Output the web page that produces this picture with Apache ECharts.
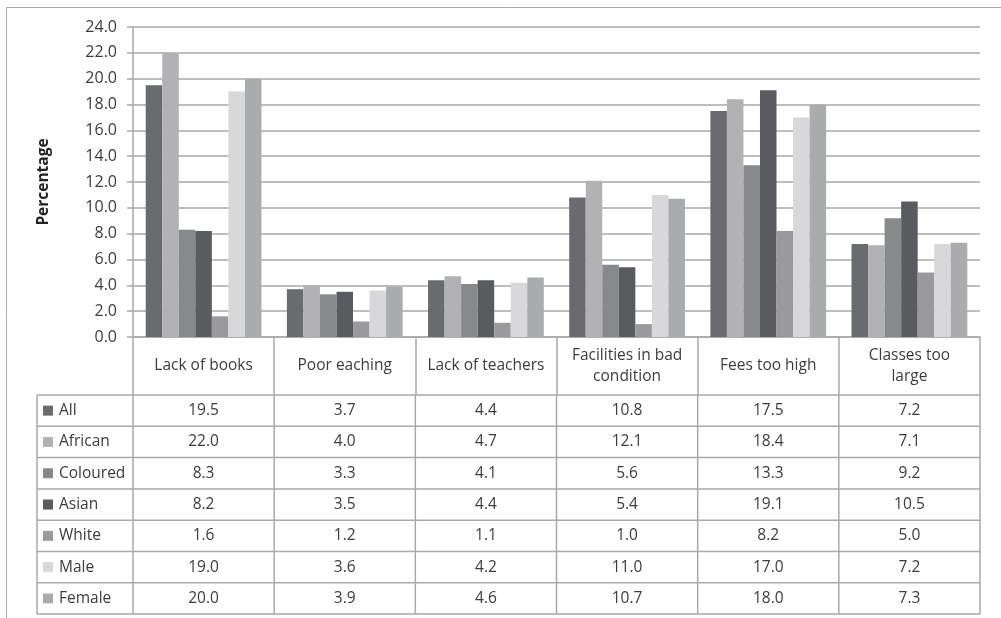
<!DOCTYPE html>
<html>
<head>
<meta charset="utf-8">
<script src="https://cdn.jsdelivr.net/npm/echarts@6/dist/echarts.min.js"></script>
<style>
  html, body { margin: 0; padding: 0; background: #fff; }
  #chart { width: 1001px; height: 618px; }
</style>
</head>
<body>
<div id="chart"></div>
<script>
// Reasons given for problems at school, by population group and sex (%)
const categories = ['Lack of books', 'Poor eaching', 'Lack of teachers', 'Facilities in bad\ncondition', 'Fees too high', 'Classes too\nlarge'];
const groupNames = ['All', 'African', 'Coloured', 'Asian', 'White', 'Male', 'Female'];
const groupColors = ['#6a6b6f', '#b2b2b4', '#88898b', '#5a5b5f', '#9a9a9c', '#d8d8da', '#a9abad'];

const allValues      = [19.5, 3.7, 4.4, 10.8, 17.5, 7.2];
const africanValues  = [22.0, 4.0, 4.7, 12.1, 18.4, 7.1];
const colouredValues = [8.3, 3.3, 4.1, 5.6, 13.3, 9.2];
const asianValues    = [8.2, 3.5, 4.4, 5.4, 19.1, 10.5];
const whiteValues    = [1.6, 1.2, 1.1, 1.0, 8.2, 5.0];
const maleValues     = [19.0, 3.6, 4.2, 11.0, 17.0, 7.2];
const femaleValues   = [20.0, 3.9, 4.6, 10.7, 18.0, 7.3];

const groupValues = [allValues, africanValues, colouredValues, asianValues, whiteValues, maleValues, femaleValues];

const FONT = '"Open Sans", "Noto Sans", sans-serif';
const TEXT = '#3c3c3c';
const LINE = '#a9a9a9';

const grid = { left: 133, right: 21, top: 27, bottom: 281 };
const headerHeight = 58;
const rowHeight = 31.3;
const labelColLeft = 37;

const chart = echarts.init(document.getElementById('chart'), null, { renderer: 'canvas' });

chart.setOption({
  backgroundColor: '#fff',
  animation: false,
  grid: grid,
  xAxis: {
    type: 'category',
    data: categories,
    boundaryGap: true,
    axisLine: { lineStyle: { color: LINE, width: 1.5 } },
    axisTick: { show: true, interval: 0, length: headerHeight, lineStyle: { color: LINE, width: 1.5 } },
    axisLabel: {
      show: true,
      interval: 0,
      margin: headerHeight / 2,
      verticalAlign: 'middle',
      align: 'center',
      color: TEXT,
      fontFamily: FONT,
      fontSize: 15.5,
      lineHeight: 21
    },
    splitLine: { show: false }
  },
  yAxis: {
    type: 'value',
    min: 0,
    max: 24,
    interval: 2,
    axisLine: { show: true, lineStyle: { color: LINE, width: 1.5 } },
    axisTick: { show: true, length: 6, lineStyle: { color: LINE, width: 1.5 } },
    axisLabel: {
      margin: 16,
      color: TEXT,
      fontFamily: FONT,
      fontSize: 16,
      formatter: v => v.toFixed(1)
    },
    splitLine: { show: true, lineStyle: { color: LINE, width: 1.5 } }
  },
  series: groupNames.map((name, i) => ({
    name: name,
    type: 'bar',
    data: groupValues[i],
    barGap: '0%',
    barCategoryGap: '18%',
    itemStyle: { color: groupColors[i] }
  }))
});

// Data table under the plot, aligned to the category bands of the x axis
function buildTable() {
  const elements = [];
  const zeroY = chart.convertToPixel({ yAxisIndex: 0 }, 0);
  const plotLeft = grid.left;
  const plotRight = 1001 - grid.right;
  const band = (plotRight - plotLeft) / categories.length;
  const tableTop = zeroY + headerHeight;
  const tableBottom = tableTop + rowHeight * groupNames.length;
  const lineStyle = { stroke: LINE, lineWidth: 1.5 };

  // horizontal rules
  for (let r = 0; r <= groupNames.length; r++) {
    const y = tableTop + r * rowHeight;
    elements.push({ type: 'line', silent: true, shape: { x1: labelColLeft, y1: y, x2: plotRight, y2: y }, style: lineStyle });
  }
  // vertical rules
  const xs = [labelColLeft];
  for (let c = 0; c <= categories.length; c++) xs.push(plotLeft + c * band);
  xs.forEach(x => {
    elements.push({ type: 'line', silent: true, shape: { x1: x, y1: tableTop, x2: x, y2: tableBottom }, style: lineStyle });
  });

  groupNames.forEach((name, r) => {
    const cy = tableTop + r * rowHeight + rowHeight / 2;
    // legend key + name
    elements.push({ type: 'rect', silent: true, shape: { x: 43, y: cy - 5, width: 10, height: 10 }, style: { fill: groupColors[r] } });
    elements.push({ type: 'text', silent: true, x: 59, y: cy, style: { text: name, fill: TEXT, font: '15.5px ' + FONT, textVerticalAlign: 'middle', textAlign: 'left' } });
    groupValues[r].forEach((v, c) => {
      const cx = chart.convertToPixel({ xAxisIndex: 0 }, c);
      elements.push({ type: 'text', silent: true, x: cx, y: cy, style: { text: v.toFixed(1), fill: TEXT, font: '15.5px ' + FONT, textVerticalAlign: 'middle', textAlign: 'center' } });
    });
  });

  // y axis title
  elements.push({
    type: 'text', silent: true, x: 44, y: (grid.top + zeroY) / 2, rotation: Math.PI / 2,
    style: { text: 'Percentage', fill: '#222', font: 'bold 15.5px ' + FONT, textAlign: 'center', textVerticalAlign: 'middle' }
  });

  // chart frame
  elements.push({ type: 'rect', silent: true, shape: { x: 6.5, y: 7.5, width: 1010, height: 630 }, style: { fill: null, stroke: '#a8a8a8', lineWidth: 1 } });

  chart.setOption({ graphic: elements });
}
buildTable();
</script>
</body>
</html>
